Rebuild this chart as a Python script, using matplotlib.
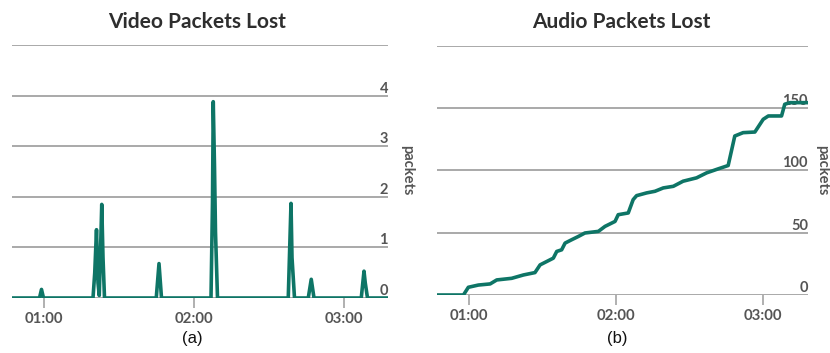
import matplotlib
matplotlib.use("Agg")
import matplotlib.pyplot as plt
from matplotlib.ticker import FixedLocator, FuncFormatter
import matplotlib.transforms as mtransforms

# ---------------- data ----------------
# time in minutes since 00:00
video_t = [47.0, 58.2, 59.0, 59.8,
           79.6, 80.3, 81.0, 81.6, 82.1, 82.6, 83.1, 83.6, 84.2,
           104.9, 106.0, 107.0,
           126.8, 127.4, 127.7, 128.2, 128.6, 129.4,
           157.7, 158.8, 159.2, 160.2,
           165.7, 166.9, 168.0,
           186.9, 188.0, 188.5, 189.4, 197.8]
video_v = [0, 0, 0.17, 0,
           0, 0.5, 1.35, 0.3, 0.05, 0.9, 1.85, 0.8, 0,
           0, 0.68, 0,
           0, 1.9, 3.88, 2.6, 1.3, 0,
           0, 1.87, 0.8, 0,
           0, 0.37, 0,
           0, 0.53, 0.3, 0, 0]

audio_t = [46.9, 57.7, 59.7, 63.8, 68.6, 71.3, 77.4, 82.2, 86.9, 89.0,
           91.7, 94.4, 95.8, 97.8, 99.2, 101.9, 104.6, 107.3, 112.8, 115.5,
           119.6, 120.9, 125.0, 127.0, 128.4, 132.5, 135.9, 139.3, 143.4, 147.4,
           152.9, 157.0, 161.7, 165.8, 168.5, 171.9, 176.7, 180.1, 182.2, 187.6,
           188.9, 191.0, 198.4]
audio_v = [0, 0, 6.2, 8.0, 8.9, 12.1, 13.4, 16.1, 18.0, 24.2,
           26.9, 29.6, 35.0, 36.3, 41.7, 44.4, 47.0, 49.8, 51.1, 55.1,
           59.1, 64.5, 65.9, 76.6, 79.8, 82.0, 83.3, 86.0, 87.3, 91.4,
           94.1, 98.1, 101.3, 104.0, 127.7, 130.4, 130.9, 141.1, 143.8, 143.8,
           153.2, 154.5, 154.5]

x_ticks = [60, 120, 180]
video_yticks = [0, 1, 2, 3, 4]
audio_yticks = [0, 50, 100, 150]
titles = ["Video Packets Lost", "Audio Packets Lost"]
captions = ["(a)", "(b)"]

# ---------------- style ----------------
LINE = "#0e7566"
GRID = "#a3a3a3"
TXT = "#555555"

fig = plt.figure(figsize=(8.30, 3.53), dpi=100)

def fmt(x, pos):
    return "%02d:%02d" % (int(x) // 60, int(x) % 60)

def setup(ax, xlim, ylim, yticks, grid_top):
    ax.set_xlim(*xlim)
    ax.set_ylim(*ylim)
    for s in ax.spines.values():
        s.set_visible(False)
    ax.set_yticks([])
    for g in yticks + [grid_top]:
        ax.axhline(g, color=GRID, lw=1.3, zorder=1)
    ax.xaxis.set_major_locator(FixedLocator(x_ticks))
    ax.xaxis.set_major_formatter(FuncFormatter(fmt))
    ax.tick_params(axis="x", direction="out", length=7, width=1.2,
                   color=GRID, pad=3, labelsize=10.8, labelcolor=TXT)
    for lab in ax.get_xticklabels():
        lab.set_fontweight("bold")
        lab.set_fontfamily("Lato")
    trans = mtransforms.blended_transform_factory(ax.transAxes, ax.transData)
    for v in yticks:
        ax.text(1.0, v, str(v), transform=trans, ha="right", va="bottom",
                fontsize=10.5, fontweight="bold", color=TXT, family="Lato")
    ax.set_facecolor("none")

# left panel
ax1 = fig.add_axes([12/830, 0.1558, 376/830, 0.7167])
setup(ax1, (47.2, 197.6), (0, 5), video_yticks, 5)
ax1.plot(video_t, video_v, color=LINE, lw=2.6, zorder=3, solid_joinstyle="round")

# right panel
ax2 = fig.add_axes([437/830, 0.1643, 371/830, 0.7054])
setup(ax2, (46.9, 198.4), (0, 200), audio_yticks, 200)
ax2.plot(audio_t, audio_v, color=LINE, lw=2.6, zorder=3, solid_joinstyle="round")

# titles
fig.text(197/830, 1 - 22/353, titles[0], ha="center", va="center",
         fontsize=15, fontweight="bold", color="#2e2e2e", family="Lato")
fig.text(621/830, 1 - 22/353, titles[1], ha="center", va="center",
         fontsize=15, fontweight="bold", color="#2e2e2e", family="Lato")

# "packets" labels
fig.text(407/830, 1 - 170/353, "packets", rotation=-90, ha="center", va="center",
         fontsize=10.5, fontweight="bold", color=TXT, family="Lato")
fig.text(822/830, 1 - 170/353, "packets", rotation=-90, ha="center", va="center",
         fontsize=10.5, fontweight="bold", color=TXT, family="Lato")

# captions
fig.text(192/830, 1 - 338/353, captions[0], ha="center", va="center",
         fontsize=12, color="#111111", family="Liberation Sans")
fig.text(617/830, 1 - 338/353, captions[1], ha="center", va="center",
         fontsize=12, color="#111111", family="Liberation Sans")

fig.savefig("out.png", dpi=100, facecolor="white")
